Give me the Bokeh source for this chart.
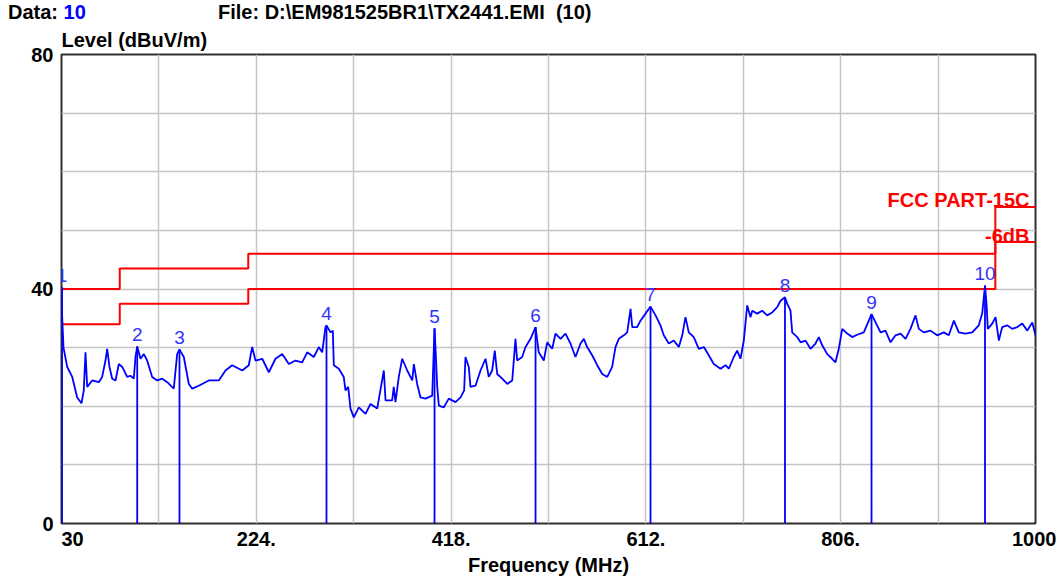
from bokeh.plotting import figure
from bokeh.models import Range1d, FixedTicker, Label, Title, Div
from bokeh.layouts import column
from bokeh.core.properties import value
from bokeh.embed import file_html
from bokeh.resources import INLINE

# ---------------- data ----------------
freq_mhz = [
    30.0, 30.6, 32.0, 35.7, 40.7, 45.6, 49.9, 52.2, 53.9, 55.6,
    60.6, 67.1, 70.5, 73.8, 75.5, 77.8, 80.5, 83.8, 87.1, 90.5,
    95.4, 98.7, 102.0, 103.7, 105.4, 108.7, 112.0, 115.3, 120.3, 125.3,
    130.3, 135.3, 141.8, 145.2, 147.5, 151.8, 156.8, 160.2, 166.7, 176.7,
    186.7, 193.3, 200.0, 210.0, 216.5, 219.9, 223.2, 229.9, 236.5, 243.1,
    249.8, 256.4, 263.0, 269.7, 274.7, 281.3, 286.2, 289.6, 292.9, 293.9,
    297.9, 300.2, 301.2, 306.2, 311.1, 312.8, 315.5, 317.8, 321.1, 326.1,
    332.8, 337.7, 344.4, 351.0, 352.7, 359.3, 360.9, 362.6, 365.9, 369.3,
    374.3, 379.3, 380.9, 384.2, 387.5, 392.5, 399.2, 401.5, 402.5, 404.2,
    405.8, 410.7, 415.7, 422.4, 427.4, 431.0, 432.3, 435.6, 437.3, 442.3,
    447.3, 452.3, 455.5, 458.9, 461.5, 463.9, 468.9, 473.9, 478.9, 482.1,
    483.8, 488.8, 492.1, 497.1, 502.1, 505.3, 510.3, 513.7, 518.7, 522.0,
    527.0, 531.9, 536.9, 541.9, 546.9, 550.2, 553.5, 558.5, 563.5, 568.5,
    573.5, 578.4, 581.7, 585.0, 590.0, 593.4, 596.7, 598.4, 603.3, 606.6,
    611.6, 616.6, 621.6, 626.5, 629.8, 634.8, 639.8, 644.8, 648.2, 651.4,
    654.7, 659.7, 664.7, 669.7, 674.6, 679.6, 686.3, 691.3, 694.6, 699.5,
    702.9, 706.2, 709.5, 712.9, 716.2, 717.9, 722.8, 727.8, 732.8, 737.8,
    742.8, 746.1, 750.5, 752.7, 756.0, 757.7, 762.7, 766.0, 771.0, 775.9,
    780.9, 784.2, 787.6, 792.6, 797.5, 800.8, 804.1, 807.5, 812.5, 817.5,
    822.4, 829.0, 834.0, 836.7, 840.7, 845.7, 850.6, 855.6, 860.6, 865.6,
    870.6, 875.5, 880.5, 883.8, 888.8, 895.4, 902.1, 908.7, 913.7, 918.7,
    923.6, 930.3, 937.0, 943.5, 946.9, 949.7, 951.2, 952.5, 956.9, 960.2,
    963.5, 966.8, 971.8, 976.8, 981.8, 986.8, 991.8, 996.8, 1000.0,
]
level_dbuv = [
    40.3, 35.5, 30.0, 26.7, 25.0, 21.5, 20.5, 22.7, 29.2, 23.3,
    24.4, 24.1, 25.0, 27.8, 29.8, 26.7, 24.7, 24.4, 27.2, 26.7,
    25.0, 25.2, 24.7, 28.4, 30.2, 28.1, 28.9, 27.8, 25.0, 24.4,
    24.7, 24.1, 23.0, 28.9, 29.7, 28.4, 23.8, 23.0, 23.5, 24.4,
    24.4, 26.1, 27.0, 26.1, 27.0, 30.1, 27.8, 28.1, 25.8, 28.1,
    28.9, 27.2, 27.8, 27.5, 29.2, 28.4, 30.1, 29.2, 33.5, 33.8,
    32.6, 32.9, 27.0, 26.4, 25.0, 22.7, 23.3, 19.6, 18.1, 19.8,
    18.7, 20.4, 19.6, 26.1, 21.0, 21.0, 23.3, 20.7, 25.0, 28.1,
    26.1, 24.4, 27.2, 23.8, 21.5, 21.3, 21.8, 33.3, 29.8, 23.3,
    20.1, 19.8, 21.3, 20.7, 21.5, 22.7, 28.4, 26.7, 23.3, 23.5,
    26.1, 28.1, 25.0, 26.1, 29.5, 25.5, 24.7, 23.8, 24.4, 31.5,
    27.8, 28.4, 30.1, 31.5, 33.5, 29.2, 27.8, 30.9, 29.8, 32.4,
    31.5, 32.4, 30.7, 28.4, 30.7, 31.5, 30.1, 28.7, 27.0, 25.5,
    25.0, 26.7, 30.1, 31.5, 32.1, 32.6, 36.6, 33.5, 33.5, 34.6,
    35.8, 37.0, 35.5, 33.8, 32.1, 30.7, 31.2, 30.1, 32.1, 35.2,
    32.6, 31.8, 29.8, 30.1, 28.7, 27.2, 26.4, 27.0, 26.4, 28.4,
    29.5, 28.1, 31.2, 37.2, 35.2, 36.3, 35.8, 36.3, 35.5, 36.0,
    36.9, 38.0, 38.6, 37.5, 36.3, 32.6, 31.8, 30.9, 31.2, 29.8,
    30.7, 31.8, 30.4, 28.9, 28.1, 27.5, 29.8, 33.2, 32.4, 31.8,
    32.2, 32.6, 34.6, 35.7, 34.3, 32.6, 32.9, 30.9, 32.1, 32.4,
    31.5, 33.2, 35.5, 33.2, 32.6, 32.9, 32.1, 32.6, 32.1, 34.6,
    32.6, 32.4, 32.6, 33.8, 35.8, 40.6, 37.5, 33.2, 34.1, 35.2,
    31.2, 33.5, 33.8, 33.2, 33.5, 34.1, 32.9, 34.3, 32.1,
]
assert len(freq_mhz) == len(level_dbuv)

marker_freq = [30.5, 105.4, 147.5, 293.9, 401.5, 502.1, 616.6, 750.5, 836.7, 949.7]
marker_level = [40.3, 30.2, 29.7, 33.8, 33.3, 33.5, 37.0, 38.6, 35.7, 40.6]
marker_text = ["1", "2", "3", "4", "5", "6", "7", "8", "9", "10"]

limit_freq = [30, 88, 88, 216, 216, 960, 960, 1000]
fcc_limit = [40, 40, 43.5, 43.5, 46, 46, 54, 54]
margin_limit = [34, 34, 37.5, 37.5, 40, 40, 48, 48]

x_tick_vals = [30, 224, 418, 612, 806, 1000]
x_tick_labels = ["30", "224.", "418.", "612.", "806.", "1000"]
y_tick_vals = [0, 40, 80]
x_grid_vals = [30, 127, 224, 321, 418, 515, 612, 709, 806, 903, 1000]
y_grid_vals = [0, 10, 20, 30, 40, 50, 60, 70, 80]

header_data_no = "10"
header_file = "File: D:\\EM981525BR1\\TX2441.EMI&nbsp;&nbsp;(10)"
y_title = "Level (dBuV/m)"
x_title = "Frequency (MHz)"
limit_name = "FCC PART-15C"
margin_name = "-6dB"

FONT = "Liberation Sans"
BLUE = "#0000ff"
RED = "#ff0000"

W, H = 1056, 578
HEAD_H = 22

# ---------------- header (two colours in one row) ----------------
header = Div(
    text=(f'<div style="font-family:\'{FONT}\';font-size:20px;font-weight:bold;color:black;'
          f'line-height:20px;white-space:nowrap;padding-top:2px;">'
          f'<span style="display:inline-block;box-sizing:content-box;width:210px;padding-left:8px;">Data: '
          f'<span style="color:{BLUE};">{header_data_no}</span></span>'
          f'<span>{header_file}</span></div>'),
    width=W, height=HEAD_H, margin=(0, 0, 0, 0))

# ---------------- figure ----------------
p = figure(width=W, height=H - HEAD_H, x_range=Range1d(30, 1000), y_range=Range1d(0, 80),
           output_backend="svg", toolbar_location=None, margin=(0, 0, 0, 0),
           min_border_left=61, min_border_right=21, min_border_top=54 - HEAD_H,
           min_border_bottom=55)
p.background_fill_color = "white"
p.border_fill_color = "white"
p.outline_line_color = "#303030"
p.outline_line_width = 2

p.add_layout(Title(text=y_title, align="left", offset=0, standoff=7,
                   text_font=FONT, text_font_size="20px", text_font_style="bold",
                   text_color="black"), "above")

p.xgrid.ticker = FixedTicker(ticks=x_grid_vals)
p.ygrid.ticker = FixedTicker(ticks=y_grid_vals)
for g in (p.xgrid, p.ygrid):
    g.grid_line_color = "#c4c4c4"
    g.grid_line_width = 1.5

# axes
p.xaxis.ticker = FixedTicker(ticks=x_tick_vals)
overrides = {v: t for v, t in zip(x_tick_vals, x_tick_labels)}
overrides[x_tick_vals[0]] = "\u00a0\u00a0\u00a0\u00a0" + x_tick_labels[0]  # first label sits right of its tick
p.xaxis.major_label_overrides = overrides
p.yaxis.ticker = FixedTicker(ticks=y_tick_vals)
for ax in (p.xaxis, p.yaxis):
    ax.axis_line_color = None
    ax.major_tick_line_color = None
    ax.minor_tick_line_color = None
    ax.major_tick_out = 0
    ax.major_tick_in = 0
    ax.major_label_text_font = FONT
    ax.major_label_text_font_size = "20px"
    ax.major_label_text_font_style = "bold"
    ax.major_label_text_color = "black"
p.xaxis.major_label_standoff = 4
p.yaxis.major_label_standoff = 8
p.xaxis.axis_label = x_title
p.xaxis.axis_label_text_font = FONT
p.xaxis.axis_label_text_font_size = "20px"
p.xaxis.axis_label_text_font_style = "bold"
p.xaxis.axis_label_text_color = "black"
p.xaxis.axis_label_standoff = 1

# limit lines
p.line(limit_freq, fcc_limit, line_color=RED, line_width=2)
p.line(limit_freq, margin_limit, line_color=RED, line_width=2)

# trace
p.line(freq_mhz, level_dbuv, line_color=BLUE, line_width=1.8)

# markers
p.segment(x0=marker_freq, y0=[0] * len(marker_freq), x1=marker_freq, y1=marker_level,
          line_color=BLUE, line_width=1.8)
p.text(x=marker_freq, y=marker_level, text=marker_text, text_align="center",
       text_baseline="alphabetic", y_offset=-12, text_color="#3333ff",
       text_font=value(FONT), text_font_size="19px")

# limit names inside the frame
for name, yv in ((limit_name, 55.1), (margin_name, 49.1)):
    p.add_layout(Label(x=994.0, y=yv, x_units="data", y_units="data", text=name,
                       text_color=RED, text_align="right", text_baseline="alphabetic",
                       text_font=FONT, text_font_size="20px", text_font_style="bold"))

layout = column(header, p, spacing=0, margin=(0, 0, 0, 0))
open("out.html", "w").write(file_html(layout, INLINE))
